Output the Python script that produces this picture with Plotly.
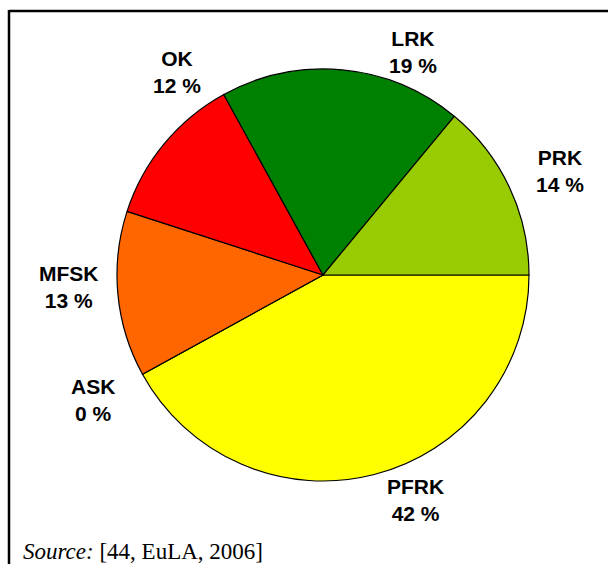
import plotly.graph_objects as go

# Share of each category (percent), listed clockwise starting at 3 o'clock
categories = ["PFRK", "ASK", "MFSK", "OK", "LRK", "PRK"]
shares = [42, 0, 13, 12, 19, 14]
slice_colors = ["#FFFF00", "#FF6600", "#FF6600", "#FF0000", "#008000", "#99CC00"]

W, H = 608, 564
CX, CY, R = 323, 275, 206  # pie centre and radius in pixels (from top-left)

# label block centres in pixels (from top-left)
label_px = {
    "LRK": (413, 52),
    "PRK": (560, 171),
    "PFRK": (415, 500),
    "ASK": (93, 400),
    "MFSK": (69, 287),
    "OK": (177, 72),
}


def px_to_paper(x, y):
    return x / W, 1 - y / H


fig = go.Figure(
    go.Pie(
        labels=categories,
        values=shares,
        sort=False,
        direction="clockwise",
        rotation=90,
        marker=dict(colors=slice_colors, line=dict(color="#000000", width=1.2)),
        textinfo="none",
        hoverinfo="skip",
        showlegend=False,
        domain=dict(
            x=[(CX - R) / W, (CX + R) / W],
            y=[1 - (CY + R) / H, 1 - (CY - R) / H],
        ),
    )
)

annotations = []
for name, val in zip(categories, shares):
    px, py = label_px[name]
    ax, ay = px_to_paper(px, py)
    annotations.append(
        dict(
            x=ax, y=ay, xref="paper", yref="paper",
            text=f"<b>{name}<br>{val} %</b>",
            showarrow=False, xanchor="center", yanchor="middle",
            font=dict(family="Liberation Sans, Arial", size=21, color="#000000"),
        )
    )

# source line at the bottom
annotations.append(
    dict(
        x=21 / W, y=1 - 566 / H, xref="paper", yref="paper",
        text="<i>Source:</i> [44, EuLA, 2006]",
        showarrow=False, xanchor="left", yanchor="bottom",
        font=dict(family="Liberation Serif, Times New Roman", size=23, color="#000000"),
    )
)

# open frame: top and left edges (the rest runs off the page)
shapes = [
    dict(type="line", xref="paper", yref="paper",
         x0=9 / W, x1=1.05, y0=1 - 11 / H, y1=1 - 11 / H,
         line=dict(color="#000000", width=2.5)),
    dict(type="line", xref="paper", yref="paper",
         x0=9 / W, x1=9 / W, y0=1 - 10 / H, y1=-0.05,
         line=dict(color="#000000", width=2.5)),
]

fig.update_layout(
    width=W, height=H,
    margin=dict(l=0, r=0, t=0, b=0),
    paper_bgcolor="#FFFFFF",
    plot_bgcolor="#FFFFFF",
    annotations=annotations,
    shapes=shapes,
)

fig.write_html("out.html", config={"displayModeBar": False})
